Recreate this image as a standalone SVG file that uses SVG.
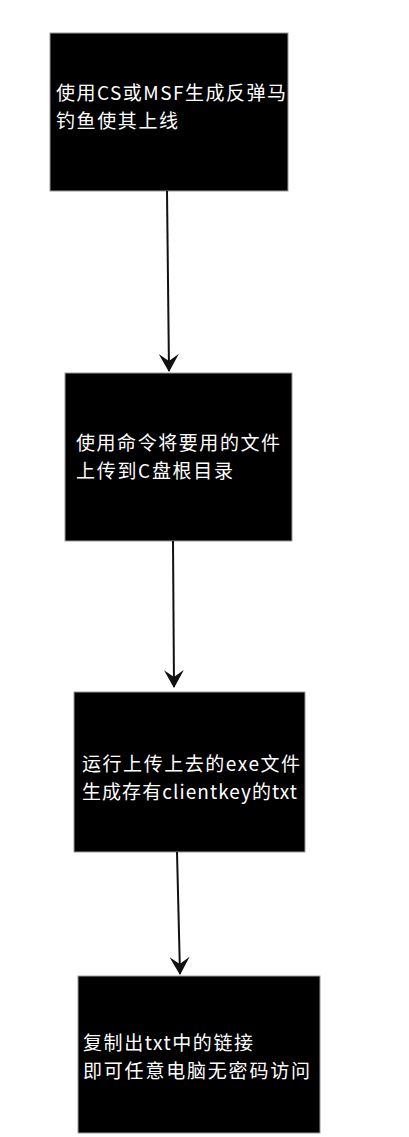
<svg xmlns="http://www.w3.org/2000/svg" width="409" height="1137" viewBox="0 0 409 1137">
<style>
.box{fill:#000;stroke:#9a9a9a;stroke-width:1}
.t{font-family:"Microsoft YaHei","Noto Sans CJK SC","Noto Sans",sans-serif;font-size:19px;fill:#fff}
.c{stroke:#111;stroke-width:2;fill:none}
</style>
<defs>
<marker id="ah" markerWidth="18" markerHeight="20" refX="17" refY="10" orient="auto" markerUnits="userSpaceOnUse" viewBox="0 0 18 20">
<path d="M0,0 L18,10 L0,20 L7,10 Z" fill="#111"/>
</marker>
</defs>
<rect width="409" height="1137" fill="#fff"/>
<g id="node1">
<rect class="box" x="50" y="33" width="238" height="158"/>
<text class="t" x="56" y="100" textLength="230" lengthAdjust="spacing">使用CS或MSF生成反弹马</text>
<text class="t" x="56" y="128" textLength="122" lengthAdjust="spacing">钓鱼使其上线</text>
</g>
<g id="node2">
<rect class="box" x="65" y="373" width="227" height="168"/>
<text class="t" x="76" y="450" textLength="204" lengthAdjust="spacing">使用命令将要用的文件</text>
<text class="t" x="76" y="478" textLength="157" lengthAdjust="spacing">上传到C盘根目录</text>
</g>
<g id="node3">
<rect class="box" x="74" y="692" width="231" height="160"/>
<text class="t" x="82" y="771" textLength="218" lengthAdjust="spacing">运行上传上去的exe文件</text>
<text class="t" x="82" y="799" textLength="215" lengthAdjust="spacing">生成存有clientkey的txt</text>
</g>
<g id="node4">
<rect class="box" x="78" y="976" width="242" height="157"/>
<text class="t" x="83" y="1050" textLength="170" lengthAdjust="spacing">复制出txt中的链接</text>
<text class="t" x="83" y="1078" textLength="227" lengthAdjust="spacing">即可任意电脑无密码访问</text>
</g>
<g id="connectors">
<line class="c" x1="167" y1="191" x2="169" y2="371" marker-end="url(#ah)"/>
<line class="c" x1="173" y1="541" x2="174" y2="687" marker-end="url(#ah)"/>
<line class="c" x1="177" y1="852" x2="180" y2="974" marker-end="url(#ah)"/>
</g>
</svg>
